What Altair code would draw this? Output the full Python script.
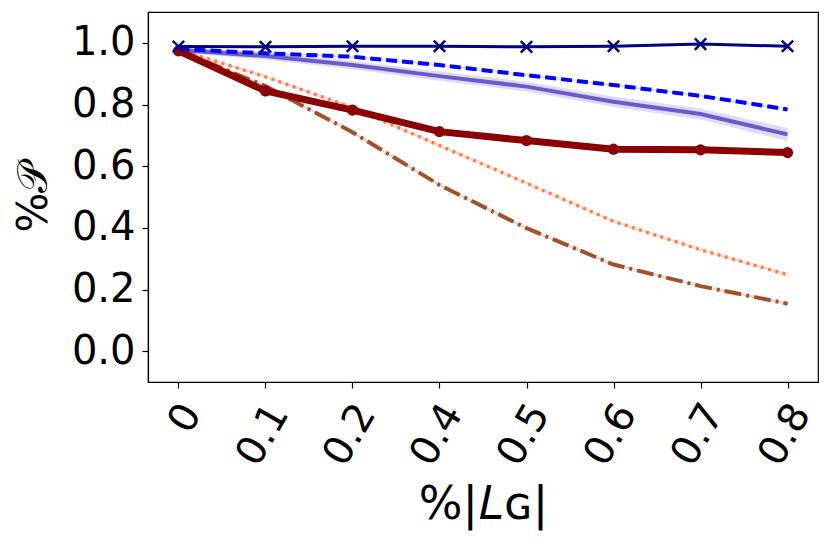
import altair as alt
import pandas as pd

x_labels = ["0", "0.1", "0.2", "0.4", "0.5", "0.6", "0.7", "0.8"]

navy_vals = [0.988, 0.987, 0.989, 0.989, 0.987, 0.989, 0.996, 0.989]
navy_err = [0.004, 0.003, 0.003, 0.003, 0.003, 0.003, 0.003, 0.003]

blue_vals = [0.980, 0.966, 0.955, 0.928, 0.895, 0.863, 0.828, 0.784]
blue_err = [0.003, 0.003, 0.003, 0.003, 0.003, 0.003, 0.003, 0.003]

slate_vals = [0.977, 0.957, 0.928, 0.892, 0.858, 0.809, 0.769, 0.703]
slate_err = [0.008, 0.012, 0.014, 0.015, 0.016, 0.017, 0.018, 0.021]

red_vals = [0.974, 0.844, 0.782, 0.712, 0.683, 0.655, 0.653, 0.644]
red_err = [0.004, 0.004, 0.004, 0.004, 0.004, 0.004, 0.004, 0.004]

coral_vals = [0.978, 0.890, 0.790, 0.667, 0.545, 0.421, 0.329, 0.248]
coral_err = [0.004, 0.004, 0.004, 0.004, 0.004, 0.004, 0.004, 0.004]

sienna_vals = [0.976, 0.860, 0.710, 0.539, 0.399, 0.281, 0.211, 0.154]
sienna_err = [0.004, 0.004, 0.004, 0.004, 0.004, 0.004, 0.004, 0.004]

series_data = {
    "sienna": (sienna_vals, sienna_err),
    "coral": (coral_vals, coral_err),
    "slate": (slate_vals, slate_err),
    "blue": (blue_vals, blue_err),
    "red": (red_vals, red_err),
    "navy": (navy_vals, navy_err),
}

styles = {
    "sienna": dict(color="#a0522d", width=4, dash=[17, 5, 3, 5], band=0.25, marker=None),
    "coral": dict(color="#ff7f50", width=3.5, dash=[3, 4.5], band=0.3, marker=None),
    "slate": dict(color="#6a5acd", width=4, dash=None, band=0.22, marker=None),
    "blue": dict(color="#0000ff", width=4, dash=[11, 5], band=0.15, marker=None),
    "red": dict(color="#8b0000", width=7, dash=None, band=0.2, marker="circle"),
    "navy": dict(color="#000080", width=3, dash=None, band=0.15, marker="x"),
}

rows = []
for name, (vals, errs) in series_data.items():
    for xl, v, e in zip(x_labels, vals, errs):
        rows.append({"series": name, "x": xl, "y": v, "lo": v - e, "hi": v + e})
df = pd.DataFrame(rows)

x_axis = alt.Axis(
    title="%|𝐿ɢ|",
    labelAngle=-60,
    labelAlign="right",
    labelBaseline="middle",
    labelOffset=13,
    labelPadding=19,
    labelFontSize=40,
    titleFontSize=46,
    titlePadding=10,
    tickSize=6,
    grid=False,
)
y_axis = alt.Axis(
    title="%𝒫",
    values=[0, 0.2, 0.4, 0.6, 0.8, 1.0],
    format=".1f",
    labelFontSize=40,
    titleFontSize=42,
    titlePadding=16,
    labelPadding=7,
    tickSize=6,
    grid=False,
)
x_scale = alt.Scale(type="point", padding=0.35)
y_scale = alt.Scale(domain=[-0.1, 1.1], nice=False, zero=False)

base = alt.Chart(df)
layers = []
# bands first
for name in series_data:
    st = styles[name]
    layers.append(
        base.transform_filter(alt.datum.series == name)
        .mark_area(color=st["color"], opacity=st["band"])
        .encode(
            x=alt.X("x:O", sort=x_labels, scale=x_scale, axis=x_axis),
            y=alt.Y("lo:Q", scale=y_scale, axis=y_axis),
            y2="hi:Q",
        )
    )
for name in series_data:
    st = styles[name]
    line_kwargs = dict(color=st["color"], strokeWidth=st["width"])
    if st["dash"] is not None:
        line_kwargs["strokeDash"] = st["dash"]
    layers.append(
        base.transform_filter(alt.datum.series == name)
        .mark_line(**line_kwargs)
        .encode(
            x=alt.X("x:O", sort=x_labels, scale=x_scale, axis=x_axis),
            y=alt.Y("y:Q", scale=y_scale, axis=y_axis),
        )
    )
    if st["marker"] == "circle":
        layers.append(
            base.transform_filter(alt.datum.series == name)
            .mark_point(shape="circle", filled=True, size=125, color=st["color"], opacity=1)
            .encode(
                x=alt.X("x:O", sort=x_labels, scale=x_scale, axis=x_axis),
                y=alt.Y("y:Q", scale=y_scale, axis=y_axis),
            )
        )
    elif st["marker"] == "x":
        layers.append(
            base.transform_filter(alt.datum.series == name)
            .mark_point(
                shape="M-1,-1L1,1M-1,1L1,-1",
                filled=False,
                size=130,
                strokeWidth=2.5,
                color=st["color"],
                opacity=1,
            )
            .encode(
                x=alt.X("x:O", sort=x_labels, scale=x_scale, axis=x_axis),
                y=alt.Y("y:Q", scale=y_scale, axis=y_axis),
            )
        )

chart = (
    alt.layer(*layers)
    .properties(
        width=670,
        height=370,
        autosize=alt.AutoSizeParams(type="none"),
        padding={"left": 140, "top": 4, "right": 5, "bottom": 156},
        background="white",
    )
    .configure_view(stroke="black", strokeWidth=1.2)
    .configure_axis(
        labelFont="DejaVu Sans",
        titleFont="DejaVu Sans",
        labelColor="black",
        titleColor="black",
        domainColor="black",
        tickColor="black",
        titleFontWeight="normal",
        domainWidth=1.2,
        tickWidth=1.2,
    )
)

chart.save("out.html", embed_options={"renderer": "svg", "actions": False})
